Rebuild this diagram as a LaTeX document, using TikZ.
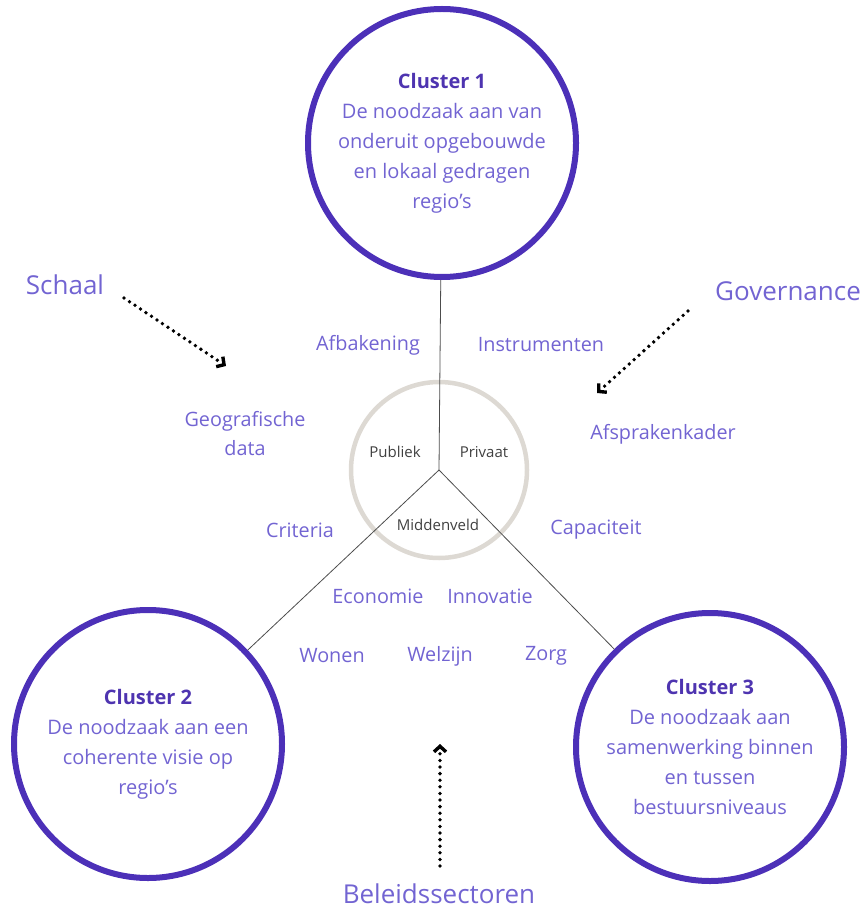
\documentclass[tikz,border=0pt]{standalone}
\usepackage{fontspec}
\setmainfont{Open Sans}
\usetikzlibrary{arrows.meta}
\definecolor{ring}{RGB}{76,48,184}
\definecolor{paars}{RGB}{114,100,210}
\definecolor{titel}{RGB}{78,52,176}
\definecolor{grijs}{RGB}{221,217,211}
\begin{document}
\begin{tikzpicture}[x=1pt,y=-1pt,
    cluster/.style={circle, draw=ring, line width=6pt, minimum size=268pt, inner sep=0pt,
      align=center, text=paars, font=\fontsize{20}{30}\selectfont},
    woord/.style={text=paars, font=\fontsize{19.8}{29}\selectfont, align=center, inner sep=0pt},
    as/.style={text=paars, font=\fontsize{26}{30}\selectfont, inner sep=0pt},
    sector/.style={text=black!75, font=\fontsize{15}{18}\selectfont, inner sep=0pt},
    pijl/.style={line width=3.8pt, dash pattern=on 0pt off 6.6pt, line cap=round,
      -{Straight Barb[length=5.5pt, width=12pt, line width=3.4pt]}}]
    \useasboundingbox (0,0) rectangle (866,909);
    \coordinate (hub) at (439,470);
    % drie clusters
    \node[cluster] (c1) at (442,143) {\textbf{\color{titel}Cluster 1}\\De noodzaak aan van\\onderuit opgebouwde\\en lokaal gedragen\\regio’s};
    \node[cluster] (c2) at (148,744) {\textbf{\color{titel}Cluster 2}\\De noodzaak aan een\\coherente visie op\\regio’s};
    \node[cluster] (c3) at (710,747) {\textbf{\color{titel}Cluster 3}\\De noodzaak aan\\samenwerking binnen\\en tussen\\bestuursniveaus};
    % middelste cirkel
    \node[circle, draw=grijs, line width=4.5pt, minimum size=176pt, inner sep=0pt] (midden) at (hub) {};
    \draw[black!70, line width=0.8pt] (hub) -- (c1);
    \draw[black!70, line width=0.8pt] (hub) -- (c2);
    \draw[black!70, line width=0.8pt] (hub) -- (c3);
    \node[sector] (publiek) at (395,452) {Publiek};
    \node[sector] (privaat) at (484,452) {Privaat};
    \node[sector] (middenveld) at (438,525) {Middenveld};
    % assen
    \node[as] (schaal) at (65,285) {Schaal};
    \node[as] (governance) at (788,291) {Governance};
    \node[as] (beleid) at (439,894) {Beleidssectoren};
    \coordinate (schaalpunt) at (226,366);
    \coordinate (govpunt) at (597,393);
    \coordinate (beleidpunt) at (440,744);
    \draw[pijl] (124,298) -- (schaalpunt);
    \draw[pijl] (688,311) -- (govpunt);
    \draw[pijl] (440,866) -- (beleidpunt);
    % trefwoorden
    \node[woord] (afbakening) at (368,345) {Afbakening};
    \node[woord] (instrumenten) at (541,345) {Instrumenten};
    \node[woord] (geo) at (245,434) {Geografische\\data};
    \node[woord] (afspraken) at (663,434) {Afsprakenkader};
    \node[woord] (criteria) at (300,530) {Criteria};
    \node[woord] (capaciteit) at (596,530) {Capaciteit};
    \node[woord] (economie) at (378,596) {Economie};
    \node[woord] (innovatie) at (490,596) {Innovatie};
    \node[woord] (wonen) at (332,656) {Wonen};
    \node[woord] (welzijn) at (440,656) {Welzijn};
    \node[woord] (zorg) at (546,656) {Zorg};
\end{tikzpicture}
\end{document}
